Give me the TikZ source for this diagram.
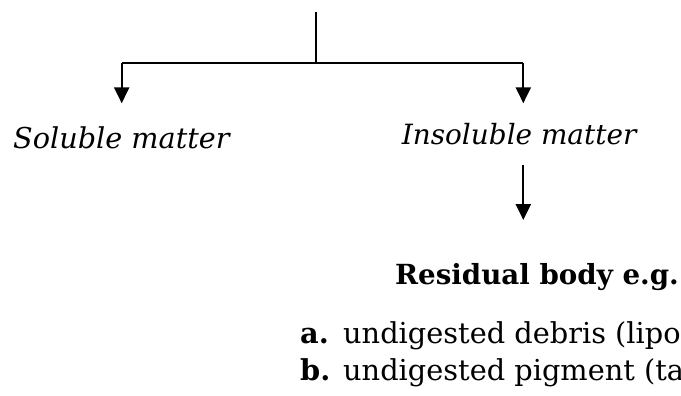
\documentclass[tikz,border=0pt]{standalone}
\usepackage{fontspec}
\setmainfont{DejaVu Serif}
\usetikzlibrary{arrows.meta}
\tikzset{
  conn/.style={line width=2.3pt},
  arr/.style={conn,-{Triangle[length=16pt,width=15pt]}},
  lab/.style={inner sep=0pt,anchor=base west,font=\fontsize{28.7}{34}\selectfont\itshape},
  head/.style={inner sep=0pt,anchor=base west,font=\fontsize{27.7}{34}\selectfont\bfseries},
  item/.style={inner sep=0pt,anchor=base west,font=\fontsize{28.8}{34}\selectfont},
  itemlbl/.style={item,font=\fontsize{28.8}{34}\selectfont\bfseries},
}
\begin{document}
\begin{tikzpicture}[x=1pt,y=-1pt]
\useasboundingbox (0,0) rectangle (681,396);
\clip (0,0) rectangle (681,396);
\coordinate (top) at (316,12);
\coordinate (j) at (316,63.3);
\coordinate (lc) at (121.7,63.3);
\coordinate (rc) at (523.3,63.3);
\coordinate (le) at (121.7,103.3);
\coordinate (re) at (523.3,103.3);
\coordinate (ms) at (523.3,165);
\coordinate (me) at (523.3,220);
\node[lab] (sol) at (13,148.3) {Soluble matter};
\node[lab,font=\fontsize{27.9}{34}\selectfont\itshape] (insol) at (401.7,145) {Insoluble matter};
\node[head] (res) at (395,284.3) {Residual body e.g.};
\node[itemlbl] (la) at (300,343.3) {a.};
\node[item] (ta) at (343,343.3) {undigested debris (lipo};
\node[itemlbl] (lb) at (300,380) {b.};
\node[item] (tb) at (343,380) {undigested pigment (ta};
\draw[conn] (top) -- (j);
\draw[conn] (lc) -- (rc);
\draw[arr] (lc) -- (le);
\draw[arr] (rc) -- (re);
\draw[arr] (ms) -- (me);
\end{tikzpicture}
\end{document}
